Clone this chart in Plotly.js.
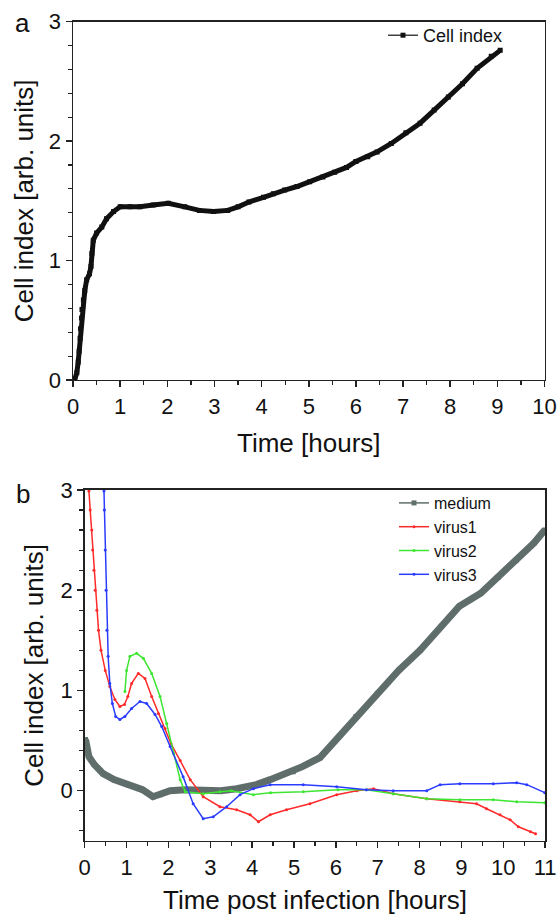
<!DOCTYPE html>
<html>
<head>
<meta charset="utf-8">
<script src="https://cdn.plot.ly/plotly-3.0.1.min.js"></script>
<style>html,body{margin:0;padding:0;background:#fff}#chart{width:557px;height:915px}</style>
</head>
<body>
<div id="chart"></div>
<script>
// Panel a: Cell index vs time
const aTime = [0.04,0.08,0.11,0.13,0.15,0.16,0.18,0.19,0.22,0.25,0.29,0.35,0.38,0.40,0.43,0.50,0.61,0.71,0.86,1.0,1.21,1.42,1.70,2.02,2.37,2.68,2.98,3.28,3.5,3.73,4.04,4.25,4.49,4.75,5.02,5.3,5.55,5.8,6.0,6.25,6.45,6.75,7.06,7.36,7.66,7.96,8.26,8.57,8.87,9.06];
const aCell = [0.01,0.06,0.15,0.24,0.35,0.43,0.52,0.59,0.67,0.75,0.84,0.89,0.95,1.06,1.17,1.23,1.28,1.35,1.41,1.45,1.45,1.45,1.465,1.48,1.45,1.42,1.41,1.42,1.45,1.49,1.53,1.56,1.59,1.62,1.66,1.70,1.74,1.78,1.83,1.87,1.91,1.98,2.07,2.15,2.26,2.37,2.48,2.61,2.71,2.76];

// Panel b: time post infection
const medTime = [0.02,0.10,0.23,0.44,0.70,1.04,1.38,1.63,1.80,2.04,2.4,2.74,3.25,3.63,4.1,4.43,4.98,5.2,5.62,6.1,6.48,6.99,7.5,8.01,8.52,8.95,9.46,9.88,10.31,10.73,10.99];
const medium  = [0.51,0.34,0.26,0.17,0.11,0.06,0.01,-0.06,-0.04,0.0,0.01,0.01,0.0,0.02,0.06,0.11,0.19,0.24,0.33,0.55,0.74,0.97,1.2,1.40,1.64,1.84,1.97,2.13,2.30,2.47,2.60];

const v1Time = [0.10,0.13,0.17,0.19,0.22,0.25,0.29,0.33,0.39,0.49,0.60,0.72,0.84,0.95,1.03,1.12,1.28,1.44,1.60,1.76,1.92,2.06,2.28,2.52,2.83,3.23,3.63,3.95,4.15,4.43,4.82,5.38,6.02,6.5,6.9,7.37,8.17,8.96,9.36,9.6,9.92,10.16,10.36,10.65,10.77];
const virus1 = [2.99,2.80,2.60,2.40,2.20,2.0,1.80,1.60,1.40,1.20,1.04,0.91,0.84,0.86,0.94,1.07,1.17,1.12,0.94,0.77,0.62,0.47,0.30,0.11,-0.06,-0.16,-0.19,-0.24,-0.31,-0.24,-0.19,-0.13,-0.04,0.0,0.02,-0.03,-0.08,-0.11,-0.13,-0.18,-0.24,-0.29,-0.36,-0.41,-0.43];

const v2Time = [0.96,1.0,1.08,1.24,1.40,1.60,1.80,1.96,2.12,2.28,2.40,2.83,3.23,3.5,4.03,4.44,5.22,6.05,6.73,7.37,8.17,8.96,9.76,10.32,10.99];
const virus2 = [0.99,1.20,1.34,1.37,1.32,1.17,0.94,0.67,0.37,0.11,-0.01,-0.03,-0.01,0.0,-0.04,-0.02,-0.01,0.01,0.01,-0.03,-0.08,-0.09,-0.09,-0.11,-0.12];

const v3Time = [0.46,0.47,0.49,0.51,0.53,0.56,0.60,0.66,0.74,0.84,0.96,1.12,1.32,1.48,1.68,1.84,2.04,2.35,2.59,2.83,3.07,3.39,3.71,4.03,4.43,5.22,6.02,6.73,7.37,8.17,8.49,8.96,9.76,10.32,10.56,10.99];
const virus3 = [2.99,2.80,2.40,2.0,1.60,1.34,1.07,0.87,0.74,0.71,0.74,0.82,0.89,0.87,0.76,0.64,0.44,0.14,-0.13,-0.28,-0.26,-0.16,-0.04,0.02,0.06,0.06,0.04,0.01,0.0,0.0,0.06,0.07,0.07,0.08,0.06,-0.02];

const xTicksA = [0,1,2,3,4,5,6,7,8,9,10];
const xTicksB = [0,1,2,3,4,5,6,7,8,9,10,11];

const FONT = 'Arial, "Liberation Sans", sans-serif';
const grey = '#5f6d6b', red = '#ff2a2a', green = '#3ee632', blue = '#2a3cff';

const traces = [
  {x: aTime, y: aCell, xaxis: 'x', yaxis: 'y', mode: 'lines', line: {color: '#111', width: 5}, showlegend: false, hoverinfo: 'skip'},
  {x: aTime, y: aCell, xaxis: 'x', yaxis: 'y', name: 'Cell index', mode: 'lines+markers', line: {color: '#111', width: 1.2},
   marker: {symbol: 'square', size: 5, color: '#111'}, legend: 'legend'},
  {x: medTime, y: medium, xaxis: 'x2', yaxis: 'y2', mode: 'lines', line: {color: grey, width: 7}, showlegend: false, hoverinfo: 'skip'},
  {x: medTime, y: medium, xaxis: 'x2', yaxis: 'y2', name: 'medium', mode: 'lines+markers', line: {color: grey, width: 1.5},
   marker: {symbol: 'square', size: 5, color: grey}, legend: 'legend2'},
  {x: v1Time, y: virus1, xaxis: 'x2', yaxis: 'y2', name: 'virus1', mode: 'lines+markers', line: {color: red, width: 1.5},
   marker: {symbol: 'circle', size: 3, color: red}, legend: 'legend2'},
  {x: v2Time, y: virus2, xaxis: 'x2', yaxis: 'y2', name: 'virus2', mode: 'lines+markers', line: {color: green, width: 1.5},
   marker: {symbol: 'circle', size: 3, color: green}, legend: 'legend2'},
  {x: v3Time, y: virus3, xaxis: 'x2', yaxis: 'y2', name: 'virus3', mode: 'lines+markers', line: {color: blue, width: 1.5},
   marker: {symbol: 'circle', size: 3, color: blue}, legend: 'legend2'}
];

const minorX = {dtick: 0.5, ticks: 'outside', ticklen: 4, tickwidth: 1.2, tickcolor: '#222'};
const minorY = {dtick: 0.2, ticks: 'outside', ticklen: 4, tickwidth: 1.2, tickcolor: '#222'};

function axisBase(extra) {
  return Object.assign({
    showgrid: false, zeroline: false, showline: true, linecolor: '#222', linewidth: 1.5, mirror: true,
    ticks: 'outside', ticklen: 6, tickwidth: 1.5, tickcolor: '#222',
    tickfont: {family: FONT, size: 22, color: '#111'},
    ticklabeloverflow: 'allow',
    automargin: false, fixedrange: true
  }, extra);
}

const titleFont = {family: FONT, size: 26, color: '#111'};

const layout = {
  width: 557, height: 915,
  margin: {l: 0, r: 0, t: 0, b: 0},
  paper_bgcolor: '#fff', plot_bgcolor: '#fff',
  font: {family: FONT, color: '#111'},
  xaxis: axisBase({domain: [0.1311, 0.9776], range: [0, 10], tickvals: xTicksA, minor: minorX,
    anchor: 'y', title: {text: 'Time [hours]', font: titleFont, standoff: 16}}),
  yaxis: axisBase({domain: [0.5847, 0.9763], range: [0, 3], dtick: 1, tick0: 0, minor: minorY,
    anchor: 'x', title: {text: 'Cell index [arb. units]', font: titleFont, standoff: 8}}),
  xaxis2: axisBase({domain: [0.1521, 0.9788], range: [0, 11], tickvals: xTicksB, minor: minorX,
    anchor: 'y2', title: {text: 'Time post infection [hours]', font: titleFont, standoff: 24}}),
  yaxis2: axisBase({domain: [0.0811, 0.4645], range: [-0.5, 3], dtick: 1, tick0: 0, minor: minorY,
    anchor: 'x2', title: {text: 'Cell index [arb. units]', font: titleFont, standoff: 9}}),
  legend: {x: 383 / 557, y: 1 - 17 / 915, xanchor: 'left', yanchor: 'top', bgcolor: 'rgba(0,0,0,0)',
    font: {family: FONT, size: 18, color: '#111'}},
  legend2: {x: 394 / 557, y: 1 - 486 / 915, xanchor: 'left', yanchor: 'top', bgcolor: 'rgba(0,0,0,0)',
    font: {family: FONT, size: 16, color: '#111'}, tracegroupgap: 0},
  annotations: [
    {text: 'a', x: 22 / 557, y: 1 - 23 / 915, xref: 'paper', yref: 'paper', showarrow: false, xanchor: 'center', yanchor: 'middle',
     font: {family: FONT, size: 26, color: '#111'}},
    {text: 'b', x: 23 / 557, y: 1 - 494 / 915, xref: 'paper', yref: 'paper', showarrow: false, xanchor: 'center', yanchor: 'middle',
     font: {family: FONT, size: 26, color: '#111'}}
  ]
};

Plotly.newPlot('chart', traces, layout, {staticPlot: true, displayModeBar: false});
</script>
</body>
</html>
